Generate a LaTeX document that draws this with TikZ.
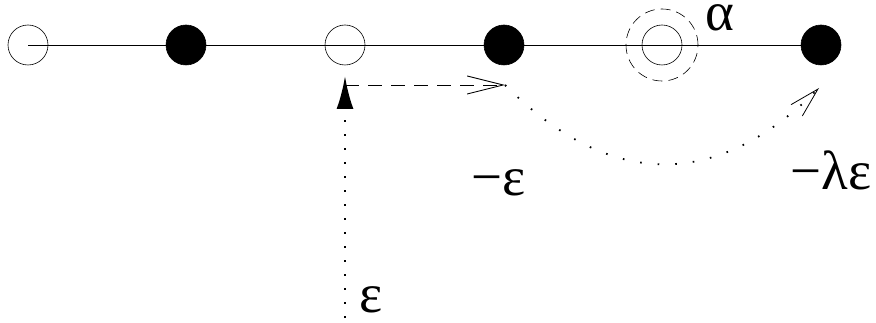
\documentclass[tikz,border=0pt]{standalone}
\usepackage{fontspec}
\setmainfont{Liberation Serif}
\usepackage{tikz}
\usetikzlibrary{arrows.meta, positioning}

\begin{document}
\begin{tikzpicture}[x=1pt, y=-1pt,
                    site/.style={circle, draw=black, line width=0.6pt, minimum size=40pt, inner sep=0pt},
                    hollow/.style={site},
                    solid/.style={site, fill=black},
                    ring/.style={circle, draw=black, dash pattern=on 10pt off 6pt, line width=0.6pt, minimum size=72pt, inner sep=0pt},
                    lbl/.style={font=\fontsize{55}{64}\selectfont, inner sep=0pt}
                ]
    \useasboundingbox (0,0) rectangle (876,323);

    % the chain of sites
    \node[hollow] (s1) at (28,45) {};
    \node[solid]  (s2) at (186,45) {};
    \node[hollow] (s3) at (345,45) {};
    \node[solid]  (s4) at (504,45) {};
    \node[hollow] (s5) at (662,45) {};
    \node[solid]  (s6) at (821,45) {};
    \node[ring] (halo) at (s5) {};
    \node[lbl] (alpha) at (720,18) {α};

    \draw[line width=0.8pt] (s1.center) -- (s6.center);

    % moves
    \coordinate (base) at (345,318);
    \coordinate (tip) at (345,76);
    \coordinate (corner) at (345,85);
    \coordinate (turn) at (505,85);
    \coordinate (land) at (819,88);

    \draw[line width=2.6pt, dash pattern=on 2.4pt off 11.6pt, -{Latex[length=33pt, width=17pt]}] (base) -- (tip);
    \draw[line width=0.9pt, dash pattern=on 14pt off 9pt, -{Straight Barb[length=36pt, width=18pt, line width=0.9pt]}] (corner) -- (turn);
    \draw[line width=1.8pt, dash pattern=on 1.6pt off 16pt, -{Straight Barb[length=30pt, width=16pt, line width=0.8pt]}]
        (turn) .. controls (606,186) and (713,194) .. (land);

    \node[lbl] (shift) at (499,183) {−ε};
    \node[lbl] (scaled) at (831,170) {−λε};
    \node[lbl] (eps) at (371,300) {ε};
\end{tikzpicture}
\end{document}
